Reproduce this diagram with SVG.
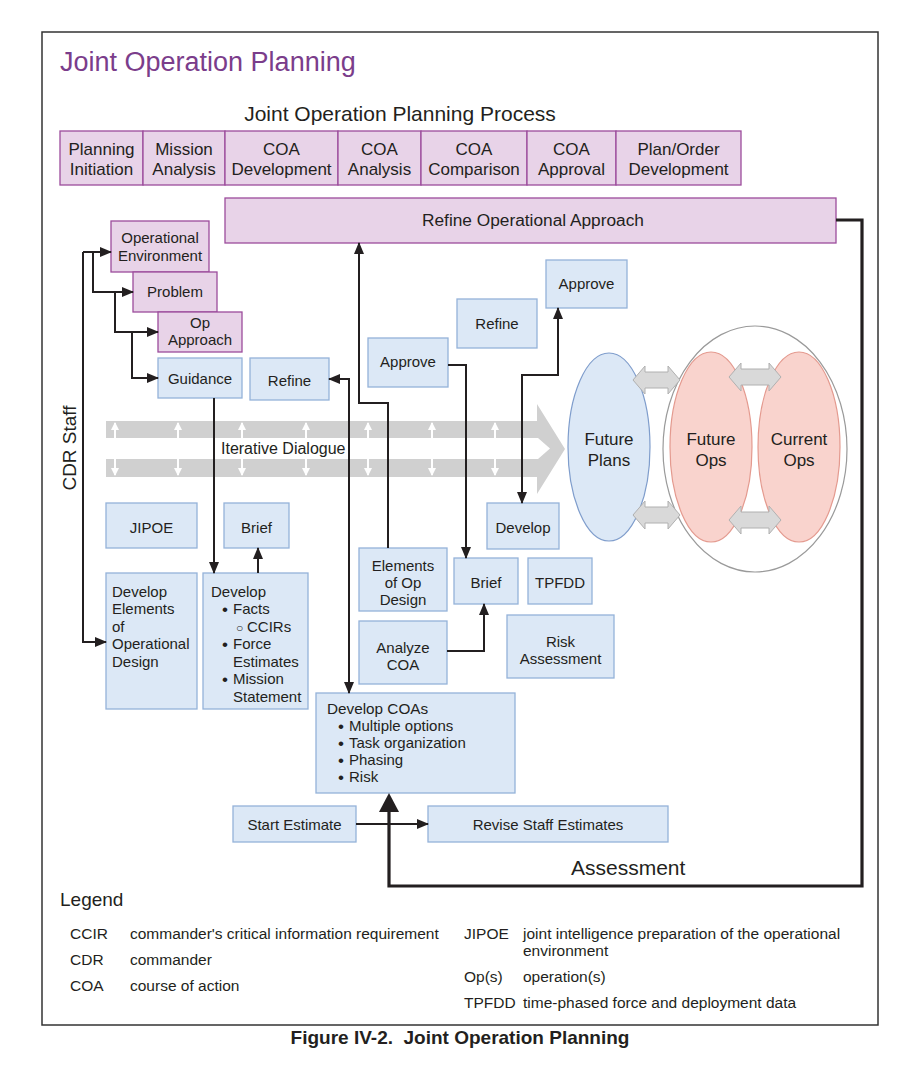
<svg xmlns="http://www.w3.org/2000/svg" width="913" height="1071" viewBox="0 0 913 1071">
<defs>
<style>
text{font-family:"Liberation Sans",Arial,sans-serif;fill:#231f20}
.p{fill:#e8d3e8;stroke:#9c4c9c;stroke-width:1.3}
.b{fill:#dce8f6;stroke:#94b2d9;stroke-width:1.3}
.t{font-size:15px}
.tc{font-size:15px;text-anchor:middle}
.h{font-size:17px;text-anchor:middle}
.c{fill:none;stroke:#231f20;stroke-width:2}
.lg{font-size:15.5px}
.bu{font-size:17px}
.ga{fill:#d9d9d9;stroke:#b0b0b0;stroke-width:1}
</style>
<marker id="ah" markerWidth="12" markerHeight="10" refX="11" refY="5" orient="auto" markerUnits="userSpaceOnUse">
<path d="M0,0 L12,5 L0,10 Z" fill="#231f20"/>
</marker>
<marker id="as" markerWidth="12" markerHeight="10" refX="1" refY="5" orient="auto" markerUnits="userSpaceOnUse">
<path d="M12,0 L0,5 L12,10 Z" fill="#231f20"/>
</marker>
<marker id="wh" markerWidth="8" markerHeight="8" refX="7" refY="4" orient="auto" markerUnits="userSpaceOnUse">
<path d="M0,0 L8,4 L0,8 Z" fill="#ffffff"/>
</marker>
<marker id="ws" markerWidth="8" markerHeight="8" refX="1" refY="4" orient="auto" markerUnits="userSpaceOnUse">
<path d="M8,0 L0,4 L8,8 Z" fill="#ffffff"/>
</marker>
</defs>
<rect x="0" y="0" width="913" height="1071" fill="#ffffff"/>
<rect x="42" y="32" width="836" height="993" fill="none" stroke="#333333" stroke-width="1.5"/>
<text x="60" y="71" style="font-size:27px;fill:#7b3d8b">Joint Operation Planning</text>
<text x="400" y="121" style="font-size:21px;text-anchor:middle">Joint Operation Planning Process</text>

<g id="phases">
<rect class="p" x="60" y="131" width="83" height="54"/>
<rect class="p" x="143" y="131" width="82" height="54"/>
<rect class="p" x="225" y="131" width="113" height="54"/>
<rect class="p" x="338" y="131" width="83" height="54"/>
<rect class="p" x="421" y="131" width="106" height="54"/>
<rect class="p" x="527" y="131" width="89" height="54"/>
<rect class="p" x="616" y="131" width="125" height="54"/>
<text class="h" x="101.5" y="155">Planning</text><text class="h" x="101.5" y="175">Initiation</text>
<text class="h" x="184" y="155">Mission</text><text class="h" x="184" y="175">Analysis</text>
<text class="h" x="281.5" y="155">COA</text><text class="h" x="281.5" y="175">Development</text>
<text class="h" x="379.5" y="155">COA</text><text class="h" x="379.5" y="175">Analysis</text>
<text class="h" x="474" y="155">COA</text><text class="h" x="474" y="175">Comparison</text>
<text class="h" x="571.5" y="155">COA</text><text class="h" x="571.5" y="175">Approval</text>
<text class="h" x="678.5" y="155">Plan/Order</text><text class="h" x="678.5" y="175">Development</text>
</g>

<g id="refine-op-approach">
<rect class="p" x="225" y="198" width="611" height="45"/>
<text class="h" x="533" y="226" style="font-size:17.3px">Refine Operational Approach</text>
</g>

<g id="iterative-dialogue">
<polygon points="106,421 537,421 537,404 565,449 537,494 537,477 106,477" fill="#d0d0d0"/>
<polygon points="106,438 538,438 550,448.5 538,459 106,459" fill="#ffffff"/>
<g stroke="#ffffff" stroke-width="2" marker-start="url(#ws)" marker-end="url(#wh)">
<line x1="115" y1="423" x2="115" y2="475"/>
<line x1="178" y1="423" x2="178" y2="475"/>
<line x1="242" y1="423" x2="242" y2="475"/>
<line x1="306" y1="423" x2="306" y2="475"/>
<line x1="368" y1="423" x2="368" y2="475"/>
<line x1="432" y1="423" x2="432" y2="475"/>
<line x1="495" y1="423" x2="495" y2="475"/>
</g>
<rect x="218" y="439" width="126" height="19" fill="#ffffff"/>
<text x="221" y="454" style="font-size:16px">Iterative Dialogue</text>
</g>

<text transform="translate(76,448) rotate(-90)" style="font-size:19px;text-anchor:middle">CDR Staff</text>

<g id="op-environment"><rect class="p" x="111" y="221" width="98" height="51"/><text class="tc" x="160" y="243">Operational</text><text class="tc" x="160" y="261">Environment</text></g>
<g id="problem"><rect class="p" x="133" y="272" width="84" height="40"/><text class="tc" x="175" y="297">Problem</text></g>
<g id="op-approach"><rect class="p" x="158" y="312" width="84" height="40"/><text class="tc" x="200" y="328">Op</text><text class="tc" x="200" y="345">Approach</text></g>
<g id="guidance"><rect class="b" x="158" y="358" width="84" height="40"/><text class="tc" x="200" y="384">Guidance</text></g>
<g id="refine-left"><rect class="b" x="250" y="358" width="79" height="42"/><text class="tc" x="289.5" y="386">Refine</text></g>
<g id="approve-left"><rect class="b" x="368" y="338" width="80" height="49"/><text class="tc" x="408" y="367">Approve</text></g>
<g id="refine-mid"><rect class="b" x="457" y="299" width="80" height="49"/><text class="tc" x="497" y="329">Refine</text></g>
<g id="approve-right"><rect class="b" x="546" y="260" width="81" height="48"/><text class="tc" x="586.5" y="289">Approve</text></g>

<g id="jipoe"><rect class="b" x="106" y="503" width="91" height="45"/><text class="tc" x="151.5" y="533">JIPOE</text></g>
<g id="brief-left"><rect class="b" x="224" y="503" width="65" height="45"/><text class="tc" x="256.5" y="533">Brief</text></g>
<g id="develop-right"><rect class="b" x="487" y="503" width="72" height="46"/><text class="tc" x="523" y="533">Develop</text></g>

<g id="develop-elements"><rect class="b" x="106" y="573" width="91" height="136"/>
<text class="t" x="112" y="597">Develop</text><text class="t" x="112" y="614">Elements</text><text class="t" x="112" y="632">of</text><text class="t" x="112" y="649">Operational</text><text class="t" x="112" y="667">Design</text></g>

<g id="develop-facts"><rect class="b" x="203" y="573" width="105" height="136"/>
<text class="t" x="211" y="597">Develop</text>
<text class="bu" x="222" y="615">•</text><text class="t" x="233" y="614">Facts</text>
<text x="236" y="632" style="font-size:12px">○</text><text class="t" x="247" y="632">CCIRs</text>
<text class="bu" x="222" y="650">•</text><text class="t" x="233" y="649">Force</text>
<text class="t" x="233" y="667">Estimates</text>
<text class="bu" x="222" y="685">•</text><text class="t" x="233" y="684">Mission</text>
<text class="t" x="233" y="702">Statement</text></g>

<g id="elements-op-design"><rect class="b" x="359" y="548" width="88" height="63"/><text class="tc" x="403" y="571">Elements</text><text class="tc" x="403" y="588">of Op</text><text class="tc" x="403" y="605">Design</text></g>
<g id="brief-mid"><rect class="b" x="454" y="558" width="64" height="46"/><text class="tc" x="486" y="588">Brief</text></g>
<g id="tpfdd"><rect class="b" x="528" y="558" width="64" height="46"/><text class="tc" x="560" y="588">TPFDD</text></g>
<g id="analyze-coa"><rect class="b" x="359" y="621" width="88" height="63"/><text class="tc" x="403" y="653">Analyze</text><text class="tc" x="403" y="670">COA</text></g>
<g id="risk-assessment"><rect class="b" x="507" y="615" width="107" height="63"/><text class="tc" x="560.5" y="647">Risk</text><text class="tc" x="560.5" y="664">Assessment</text></g>

<g id="develop-coas"><rect class="b" x="316" y="693" width="199" height="100"/>
<text class="t" x="327" y="714" style="font-size:15.3px">Develop COAs</text>
<text class="bu" x="338" y="732">•</text><text class="t" x="349" y="731">Multiple options</text>
<text class="bu" x="338" y="749">•</text><text class="t" x="349" y="748">Task organization</text>
<text class="bu" x="338" y="766">•</text><text class="t" x="349" y="765">Phasing</text>
<text class="bu" x="338" y="783">•</text><text class="t" x="349" y="782">Risk</text></g>

<g id="start-estimate"><rect class="b" x="233" y="806" width="123" height="36"/><text class="tc" x="294.5" y="830">Start Estimate</text></g>
<g id="revise-staff"><rect class="b" x="428" y="806" width="240" height="36"/><text class="tc" x="548" y="830">Revise Staff Estimates</text></g>

<g id="cycle">
<ellipse cx="755" cy="449" rx="92" ry="123" fill="#ffffff" stroke="#9a9a9a" stroke-width="1.2"/>
<g id="future-plans"><ellipse cx="609" cy="447" rx="41" ry="94" fill="#dce8f6" stroke="#7f9dcc" stroke-width="1.2"/><text x="609" y="445" style="font-size:17px;text-anchor:middle">Future</text><text x="609" y="466" style="font-size:17px;text-anchor:middle">Plans</text></g>
<g id="future-ops"><ellipse cx="711" cy="447" rx="41" ry="95" fill="#f9d3cd" stroke="#e49a8f" stroke-width="1.2"/><text x="711" y="445" style="font-size:17px;text-anchor:middle">Future</text><text x="711" y="466" style="font-size:17px;text-anchor:middle">Ops</text></g>
<g id="current-ops"><ellipse cx="799" cy="447" rx="41" ry="95" fill="#f9d3cd" stroke="#e49a8f" stroke-width="1.2"/><text x="799" y="445" style="font-size:17px;text-anchor:middle">Current</text><text x="799" y="466" style="font-size:17px;text-anchor:middle">Ops</text></g>
<polygon class="ga" points="633,380 645,366 645,372 668,372 668,366 680,380 668,394 668,388 645,388 645,394"/>
<polygon class="ga" points="633,515 645,501 645,507 668,507 668,501 680,515 668,529 668,523 645,523 645,529"/>
<polygon class="ga" points="729,377 741,363 741,369 769,369 769,363 781,377 769,391 769,385 741,385 741,391"/>
<polygon class="ga" points="729,520 741,506 741,512 769,512 769,506 781,520 769,534 769,528 741,528 741,534"/>
</g>

<g id="connectors">
<polyline class="c" points="83,252 111,252" marker-end="url(#ah)"/>
<polyline class="c" points="83,252 83,642 106,642" marker-end="url(#ah)"/>
<polyline class="c" points="93,252 93,292 133,292" marker-end="url(#ah)"/>
<polyline class="c" points="115,292 115,332 158,332" marker-end="url(#ah)"/>
<polyline class="c" points="132,332 132,378 158,378" marker-end="url(#ah)"/>
<polyline class="c" points="214,398 214,573" marker-end="url(#ah)"/>
<polyline class="c" points="258,573 258,548" marker-end="url(#ah)"/>
<polyline class="c" points="329,379 349,379 349,693" marker-start="url(#as)" marker-end="url(#ah)"/>
<polyline class="c" points="388,548 388,403 359,403 359,243" marker-end="url(#ah)"/>
<polyline class="c" points="448,365 466,365 466,558" marker-end="url(#ah)"/>
<polyline class="c" points="522,503 522,375 558,375 558,308" marker-start="url(#as)" marker-end="url(#ah)"/>
<polyline class="c" points="447,651 484,651 484,604" marker-end="url(#ah)"/>
<polyline class="c" points="356,824 428,824" marker-end="url(#ah)"/>
<polyline points="836,220 862,220 862,886 389,886 389,810" fill="none" stroke="#231f20" stroke-width="3.2"/>
<polygon points="379,812 399,812 389,793" fill="#231f20"/>
</g>
<text x="571" y="875" style="font-size:21px">Assessment</text>

<g id="legend">
<text x="60" y="906" style="font-size:19px">Legend</text>
<text class="lg" x="70" y="939">CCIR</text><text class="lg" x="130" y="939">commander's critical information requirement</text>
<text class="lg" x="70" y="965">CDR</text><text class="lg" x="130" y="965">commander</text>
<text class="lg" x="70" y="991">COA</text><text class="lg" x="130" y="991">course of action</text>
<text class="lg" x="464" y="939">JIPOE</text><text class="lg" x="523" y="939">joint intelligence preparation of the operational</text>
<text class="lg" x="523" y="956">environment</text>
<text class="lg" x="464" y="982">Op(s)</text><text class="lg" x="523" y="982">operation(s)</text>
<text class="lg" x="464" y="1008">TPFDD</text><text class="lg" x="523" y="1008">time-phased force and deployment data</text>
</g>
<text x="460" y="1044" style="font-size:19px;font-weight:bold;text-anchor:middle;white-space:pre">Figure IV-2.  Joint Operation Planning</text>
</svg>
